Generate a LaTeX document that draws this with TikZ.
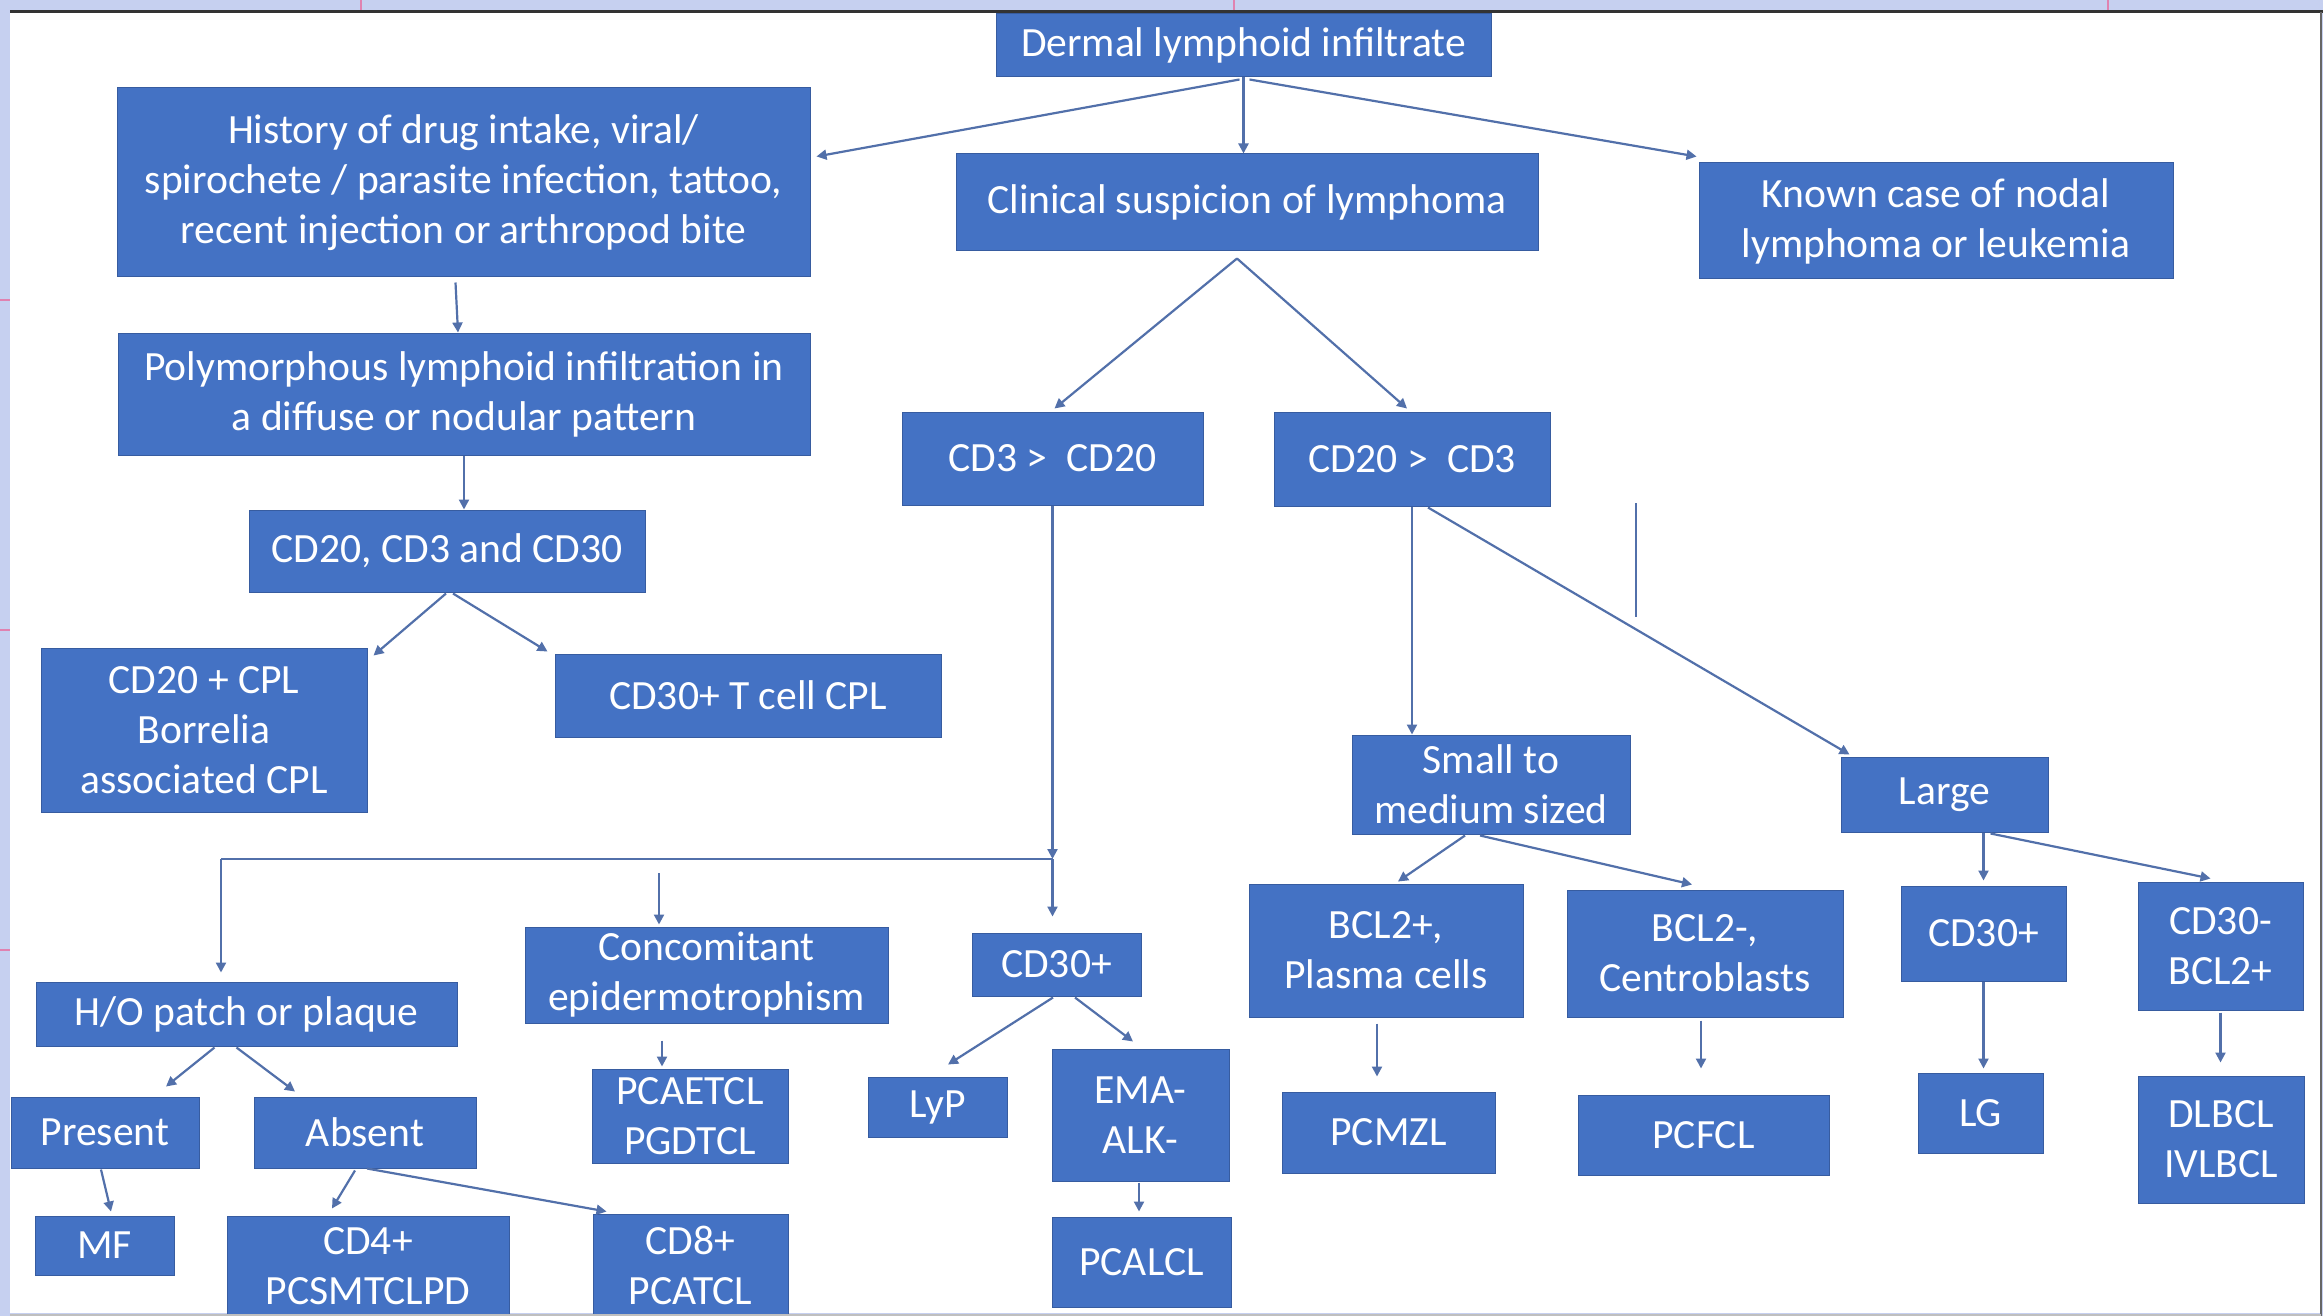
\documentclass[tikz,border=0pt]{standalone}
\usepackage{fontspec}
\setmainfont{Carlito}
\usetikzlibrary{arrows.meta,calc}

\definecolor{boxblue}{RGB}{68,114,196}
\definecolor{boxedge}{RGB}{55,92,160}
\definecolor{linkblue}{RGB}{82,112,170}
\definecolor{slidebg}{RGB}{198,208,240}
\definecolor{slidepink}{RGB}{224,130,176}

\tikzset{
  box/.style={rectangle, fill=boxblue, draw=boxedge, line width=0.5pt,
    text=white, align=center, inner sep=0pt,
    font=\fontsize{20.8}{25}\selectfont},
  link/.style={draw=linkblue, line width=1.1pt, ->},
}

\begin{document}
\begin{tikzpicture}[x=0.5pt, y=-0.5pt, >={Triangle[length=5pt,width=5pt]}]
    \useasboundingbox (0,0) rectangle (2323,1316);
    % Slide background and white panel
    \fill[slidebg] (0,0) rectangle (2323,1316);
    \fill[white] (10,12) rectangle (2321,1313);
    \foreach \y in {300,630,950}
        \draw[slidepink, line width=0.6pt] (0,\y) -- (10,\y);
    \foreach \x in {361,1234,2108}
        \draw[slidepink, line width=0.6pt] (\x,0) -- (\x,11);
    \draw[black!80, line width=1.5pt] (10,12) -- (2323,12);
    \draw[black!60, line width=1pt] (2321,12) -- (2321,1316);
    \draw[linkblue, line width=1pt] (1636,503) -- (1636,617);

    % Top level
    \node[box, minimum width=247.5pt, minimum height=31.5pt] (dermal) at (1243.5,45.5) {Dermal lymphoid infiltrate};
    \node[box, minimum width=346.5pt, minimum height=94.5pt] (history) at (463.5,182.5)
        {History of drug intake, viral/\\spirochete / parasite infection, tattoo,\\recent injection or arthropod bite};
    \node[box, minimum width=291pt, minimum height=48.5pt] (clinical) at (1247,202.5) {Clinical suspicion of lymphoma};
    \node[box, minimum width=237pt, minimum height=58pt] (known) at (1936,221) {Known case of nodal\\lymphoma or leukemia};

    % Reactive branch
    \node[box, minimum width=346pt, minimum height=61pt] (poly) at (464,394)
        {Polymorphous lymphoid infiltration in\\a diffuse or nodular pattern};
    \node[box, minimum width=198pt, minimum height=41pt] (cdpanel) at (447,551) {CD20, CD3 and CD30};
    \node[box, minimum width=163pt, minimum height=82pt] (cplb) at (204,730) {CD20 + CPL\\Borrelia\\associated CPL};
    \node[box, minimum width=193pt, minimum height=41.5pt] (cplt) at (748,695.5) {CD30+ T cell CPL};

    % Lymphoma branch
    \node[box, minimum width=150.5pt, minimum height=46.5pt] (cd3gt) at (1052.5,458.5) {CD3 >\ \ CD20};
    \node[box, minimum width=138pt, minimum height=47pt] (cd20gt) at (1412,459) {CD20 >\ \ CD3};

    % T cell side
    \node[box, minimum width=210.5pt, minimum height=32pt] (hop) at (246.5,1014) {H/O patch or plaque};
    \node[box, minimum width=181.5pt, minimum height=48pt] (concom) at (706.5,975) {Concomitant\\epidermotrophism};
    \node[box, minimum width=84.5pt, minimum height=31.5pt] (cd30t) at (1056.5,964.5) {CD30+};
    \node[box, minimum width=94pt, minimum height=35.5pt] (present) at (105,1132.5) {Present};
    \node[box, minimum width=111pt, minimum height=35.5pt] (absent) at (365,1132.5) {Absent};
    \node[box, minimum width=69.5pt, minimum height=29.5pt] (mf) at (104.5,1245.5) {MF};
    \node[box, minimum width=141pt, minimum height=50pt] (cd4) at (368,1266) {CD4+\\PCSMTCLPD};
    \node[box, minimum width=97.5pt, minimum height=51pt] (cd8) at (690.5,1265) {CD8+\\PCATCL};
    \node[box, minimum width=98pt, minimum height=47pt] (pcaetcl) at (690,1116) {PCAETCL\\PGDTCL};
    \node[box, minimum width=69.5pt, minimum height=30pt] (lyp) at (937.5,1107) {LyP};
    \node[box, minimum width=88.5pt, minimum height=66pt] (ema) at (1140.5,1115) {EMA-\\ALK-};
    \node[box, minimum width=89.5pt, minimum height=45pt] (pcalcl) at (1141.5,1262) {PCALCL};

    % B cell side
    \node[box, minimum width=139pt, minimum height=49.5pt] (small) at (1491,784.5) {Small to\\medium sized};
    \node[box, minimum width=103.5pt, minimum height=37.5pt] (large) at (1944.5,794.5) {Large};
    \node[box, minimum width=137pt, minimum height=66.5pt] (bcl2pos) at (1386,950.5) {BCL2+,\\Plasma cells};
    \node[box, minimum width=138pt, minimum height=63.5pt] (bcl2neg) at (1705,953.5) {BCL2-,\\Centroblasts};
    \node[box, minimum width=82.5pt, minimum height=47.5pt] (cd30b) at (1983.5,933.5) {CD30+};
    \node[box, minimum width=82.5pt, minimum height=64pt] (cd30neg) at (2220.5,946) {CD30-\\BCL2+};
    \node[box, minimum width=106.5pt, minimum height=40.5pt] (pcmzl) at (1388.5,1132.5) {PCMZL};
    \node[box, minimum width=125.5pt, minimum height=40pt] (pcfcl) at (1703.5,1135) {PCFCL};
    \node[box, minimum width=62.5pt, minimum height=40pt] (lg) at (1980.5,1113) {LG};
    \node[box, minimum width=83pt, minimum height=63.5pt] (dlbcl) at (2221,1139.5) {DLBCL\\IVLBCL};

    % Split points under CD3 > CD20
    \coordinate (jleft) at (221,859);
    \coordinate (jright) at (1052.5,859);
    \coordinate (jmid) at (659,873);

    % Connectors
    \draw[link] ($(dermal.south)+(-4,2)$) -- ($(history.east)+(6,-26)$);
    \draw[link] (dermal.south) -- (dermal.south |- clinical.north);
    \draw[link] ($(dermal.south)+(6,2)$) -- ($(known.north west)+(-2,-6)$);
    \draw[link] ($(history.south)+(-8,5)$) -- ($(poly.north)+(-6,0)$);
    \draw[link] (poly.south) -- (poly.south |- cdpanel.north);
    \draw[link] ($(cdpanel.south)+(-1,1)$) -- ($(cplb.north east)+(6,8)$);
    \draw[link] ($(cdpanel.south)+(6,1)$) -- ($(cplt.north west)+(-7,-2)$);
    \draw[link] ($(clinical.south)+(-10,7)$) -- ($(cd3gt.north)+(2,-3)$);
    \draw[link] ($(clinical.south)+(-10,7)$) -- ($(cd20gt.north)+(-5,-3)$);

    \draw[link] (cd3gt.south) -- (jright);
    \draw[draw=linkblue, line width=1.1pt] (jleft) -- (jright);
    \draw[link, shorten >=4.5pt] (jleft) -- (jleft |- hop.north);
    \draw[link, shorten >=1pt] (jmid) -- (jmid |- concom.north);
    \draw[link, shorten >=8pt] (jright) -- (jright |- cd30t.north);

    \draw[link] ($(hop.south)+(-32,1)$) -- ($(present.north)+(61,-10)$);
    \draw[link] ($(hop.south)+(-10,1)$) -- ($(absent.north)+(-70,-5)$);
    \draw[link] ($(present.south)+(-4,1)$) -- ($(mf.north)+(6.5,-4)$);
    \draw[link] ($(absent.south)+(-10,2)$) -- ($(cd4.north)+(-36,-7)$);
    \draw[link] ($(absent.south)+(2,0)$) -- ($(cd8.north west)+(14,-2)$);
    \draw[link] ($(concom.south)+(-44.5,17)$) -- ($(pcaetcl.north)+(-28,-2)$);
    \draw[link] ($(cd30t.south)+(-3.5,1)$) -- ($(lyp.north)+(10.5,-12)$);
    \draw[link] ($(cd30t.south)+(18.5,1)$) -- ($(ema.north)+(-7.5,-7)$);
    \draw[link] ($(ema.south)+(-1.5,1)$) -- ($(pcalcl.north)+(-2.5,-5)$);

    \draw[link] (cd20gt.south) -- (cd20gt.south |- small.north);
    \draw[link] ($(cd20gt.south)+(16,1)$) -- ($(large.north west)+(9,-2)$);
    \draw[link] ($(small.south)+(-26,1)$) -- ($(bcl2pos.north)+(12,-2)$);
    \draw[link] ($(small.south)+(-11,1)$) -- ($(bcl2neg.north)+(-13,-5)$);
    \draw[link, shorten >=2.5pt] (cd30b.north |- large.south) -- (cd30b.north);
    \draw[link] ($(large.south)+(46,1)$) -- ($(cd30neg.north)+(-10,-3)$);
    \draw[link] ($(bcl2pos.south)+(-9,6)$) -- ($(pcmzl.north)+(-11.5,-15)$);
    \draw[link] ($(bcl2neg.south)+(-4,3)$) -- ($(pcfcl.north)+(-2.5,-26)$);
    \draw[link, shorten >=2pt] (cd30b.south) -- (cd30b.south |- lg.north);
    \draw[link, shorten >=6.5pt] ($(cd30neg.south)+(0,2)$) -- (cd30neg.south |- dlbcl.north);

    % Bottom edge of the panel
    \draw[black!25, line width=1pt] (10,1314.5) -- (2321,1314.5);
\end{tikzpicture}
\end{document}
